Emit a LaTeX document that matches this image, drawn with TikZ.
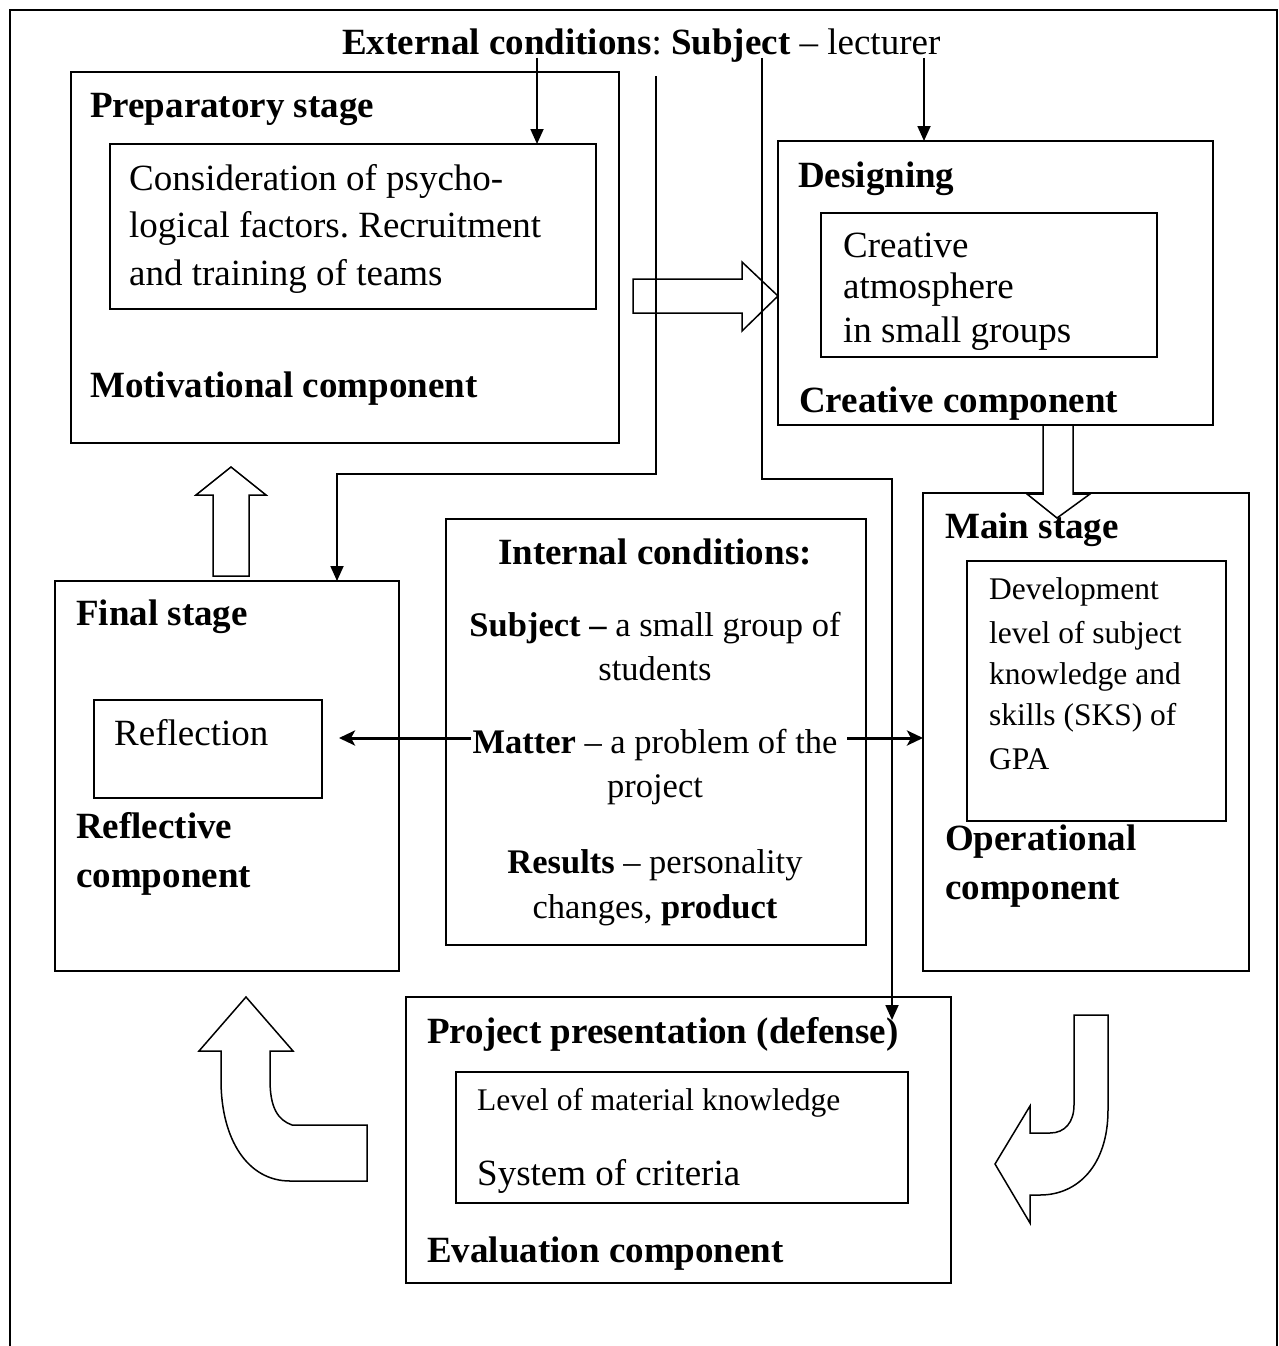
\documentclass[tikz,border=0pt]{standalone}
\usepackage{fontspec}
\setmainfont{Liberation Serif}
\usetikzlibrary{arrows.meta}
\frenchspacing
\begin{document}
\begin{tikzpicture}[x=1pt,y=-1pt,
  box/.style={draw, line width=1.8pt, rectangle, inner sep=0pt, outer sep=0pt, anchor=north west},
  lbl/.style={inner sep=0pt, anchor=base west, font=\fontsize{37}{44}\selectfont},
  hd/.style={inner sep=0pt, anchor=base west, font=\fontsize{37}{44}\selectfont\bfseries},
  hdc/.style={inner sep=0pt, anchor=base, font=\fontsize{37}{44}\selectfont\bfseries},
  lblc/.style={inner sep=0pt, anchor=base, font=\fontsize{34.5}{41}\selectfont},
  small/.style={inner sep=0pt, anchor=base west, font=\fontsize{31.5}{38}\selectfont},
  conn/.style={line width=1.8pt, -{Triangle[length=15pt,width=13pt]}},
  plain/.style={line width=1.8pt},
  matter/.style={line width=3pt, -{Stealth[length=16pt,width=15pt,inset=4pt]}},
  block/.style={draw, line width=1.5pt, fill=white, line join=miter},
]
\useasboundingbox (0,0) rectangle (1278,1346);
% outer frame
\draw[plain] (10,1346) -- (10,10) -- (1277,10) -- (1277,1346);

% boxes
\node[box, minimum width=548pt, minimum height=371pt] (prep) at (71,72) {};
\node[box, minimum width=486pt, minimum height=165pt] (prepin) at (110,144) {};
\node[box, minimum width=435pt, minimum height=284pt] (design) at (778,141) {};
\node[box, minimum width=336pt, minimum height=144pt] (designin) at (821,213) {};
\node[box, minimum width=344pt, minimum height=390pt] (final) at (55,581) {};
\node[box, minimum width=228pt, minimum height=98pt] (reflin) at (94,700) {};
\node[box, minimum width=420pt, minimum height=426pt] (internal) at (446,519) {};
\node[box, minimum width=326pt, minimum height=478pt] (main) at (923,493) {};
\node[box, minimum width=259pt, minimum height=260pt] (mainin) at (967,561) {};
\node[box, minimum width=545pt, minimum height=286pt] (project) at (406,997) {};
\node[box, minimum width=452pt, minimum height=131pt] (projin) at (456,1072) {};

% block arrows
\draw[block] (633,279) -- (742,279) -- (742,262) -- (778,296) -- (742,331) -- (742,313) -- (633,313) -- cycle;
\draw[block] (1043,425) -- (1073,425) -- (1073,494) -- (1090,494) -- (1057,518) -- (1027,494) -- (1043,494) -- cycle;
\draw[block] (213,576) -- (249,576) -- (249,495) -- (266,495) -- (231,467) -- (196,495) -- (213,495) -- cycle;
\draw[block] (246,997) -- (293,1051) -- (270,1051) -- (270,1080)
   .. controls (270,1108) and (278,1120) .. (292,1125) -- (367,1125) -- (367,1181) -- (290,1181)
   .. controls (248,1181) and (221,1140) .. (221,1080) -- (221,1051) -- (199,1051) -- cycle;
\draw[block] (1074,1015) -- (1108,1015) -- (1108,1110)
   .. controls (1108,1165) and (1078,1195) .. (1040,1195) -- (1030,1195) -- (1030,1223)
   -- (995,1164) -- (1030,1106) -- (1030,1133) -- (1050,1133)
   .. controls (1065,1133) and (1074,1122) .. (1074,1105) -- cycle;

% connectors
\coordinate (tA) at (537,58);
\draw[conn] (tA) -- (tA |- prepin.north);
\coordinate (tB) at (924,58);
\draw[conn] (tB) -- (tB |- design.north);
\coordinate (tC) at (656,76);
\coordinate (cC1) at (656,474);
\coordinate (cC2) at (337,474);
\draw[conn] (tC) -- (cC1) -- (cC2) -- (cC2 |- final.north);
\coordinate (tD) at (762,58);
\coordinate (dD1) at (762,479);
\coordinate (dD2) at (892,479);
\coordinate (dD3) at (892,1020);
\draw[conn] (tD) -- (dD1) -- (dD2) -- (dD3);
\coordinate (mL) at (471,738);
\coordinate (mLt) at (339,738);
\draw[matter] (mL) -- (mLt);
\coordinate (mR) at (847,738);
\draw[matter] (mR) -- (mR -| main.west);

% texts
\node[lbl] (h1) at (342,55) {\textbf{External conditions}: \textbf{Subject} – lecturer};
\node[hd] (h2) at (90,117) {Preparatory stage};
\node[lbl] (p1) at (129,190) {Consideration of psycho-};
\node[lbl] (p2) at (129,237) {logical factors. Recruitment};
\node[lbl] (p3) at (129,285) {and training of teams};
\node[hd] (h3) at (90,397) {Motivational component};

\node[hd] (h4) at (798,187) {Designing};
\node[lbl] (c1) at (843,257) {Creative};
\node[lbl] (c2) at (843,298) {atmosphere};
\node[lbl] (c3) at (843,342) {in small groups};
\node[hd] (h5) at (799,412) {Creative component};

\node[hd] (h6) at (945,538) {Main stage};
\node[small] (d1) at (989,599) {Development};
\node[small] (d2) at (989,643) {level of subject};
\node[small] (d3) at (989,684) {knowledge and};
\node[small] (d4) at (989,725) {skills (SKS) of};
\node[small] (d5) at (989,769) {GPA};
\node[hd] (h7) at (945,850) {Operational};
\node[hd] (h8) at (945,899) {component};

\node[hdc] (h9) at (655,564) {Internal conditions:};
\node[lblc] (i1) at (655,636) {\textbf{Subject –} a small group of};
\node[lblc] (i2) at (655,680) {students};
\node[lblc] (i3) at (655,753) {\textbf{Matter} – a problem of the};
\node[lblc] (i4) at (655,797) {project};
\node[lblc] (i5) at (655,873) {\textbf{Results} – personality};
\node[lblc] (i6) at (655,918) {changes, \textbf{product}};

\node[hd] (h10) at (76,625) {Final stage};
\node[lbl] (r1) at (114,745) {Reflection};
\node[hd] (h11) at (76,838) {Reflective};
\node[hd] (h12) at (76,887) {component};

\node[hd] (h13) at (427,1043) {Project presentation (defense)};
\node[small] (l1) at (477,1110) {Level of material knowledge};
\node[lbl] (l2) at (477,1185) {System of criteria};
\node[hd] (h14) at (427,1262) {Evaluation component};
\end{tikzpicture}
\end{document}
